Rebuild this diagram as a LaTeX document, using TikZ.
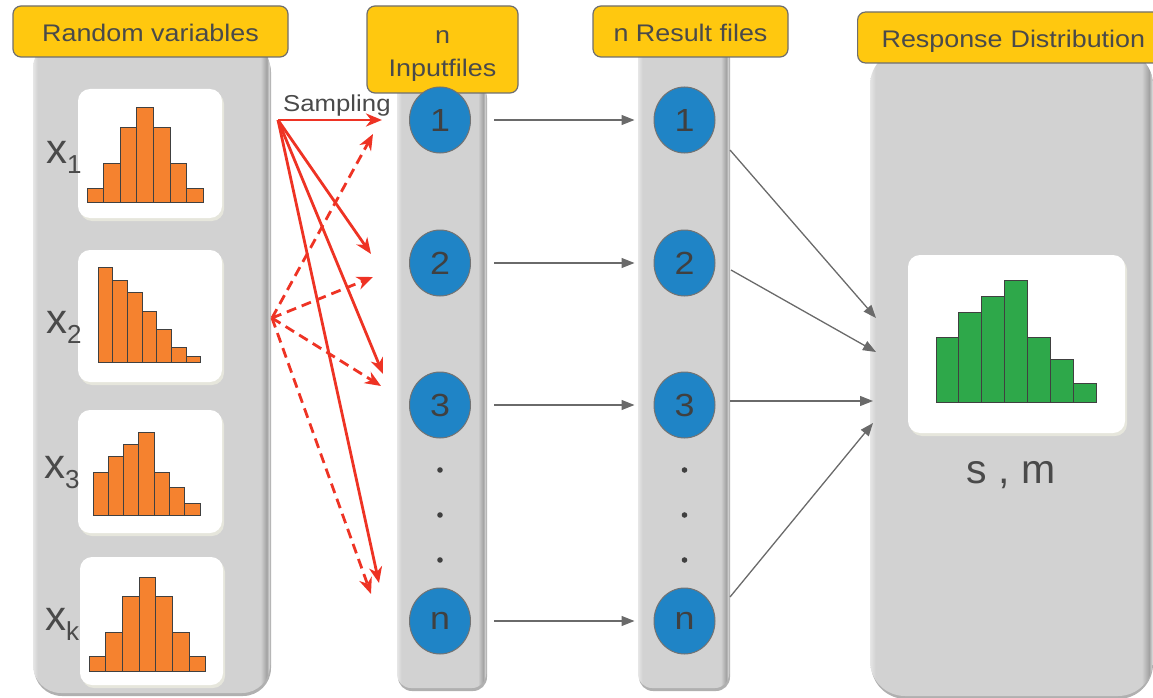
\documentclass[tikz,border=0pt]{standalone}
\usepackage{fontspec}
\setmainfont{Liberation Sans}[FakeStretch=1.12]
\newfontfamily\lblfont{Liberation Sans}
\usetikzlibrary{arrows.meta,shapes.geometric}

\definecolor{hdrfill}{HTML}{FFC80F}
\definecolor{hdrline}{HTML}{6E6E6E}
\definecolor{txtgray}{HTML}{4A4A4A}
\definecolor{colgray}{HTML}{D2D2D2}
\definecolor{coldark}{HTML}{A2A2A2}
\definecolor{colpale}{HTML}{E6E6E6}
\definecolor{barorange}{HTML}{F5822F}
\definecolor{bargreen}{HTML}{2EA84A}
\definecolor{discblue}{HTML}{1F84C6}
\definecolor{sampred}{HTML}{EE3324}
\definecolor{flowgray}{HTML}{6A6A6A}
\definecolor{cardshade}{HTML}{E6E6DC}

% column fills: pale left rim, flat body, dark right rim
\pgfdeclarehorizontalshading{widecol}{100bp}{color(0bp)=(colpale); color(25bp)=(colpale); color(26bp)=(colgray); color(73bp)=(colgray); color(74.3bp)=(coldark); color(75bp)=(colpale); color(100bp)=(colpale)}
\pgfdeclarehorizontalshading{slimcol}{100bp}{color(0bp)=(colpale); color(25bp)=(colpale); color(27.5bp)=(colgray); color(70.5bp)=(colgray); color(73.5bp)=(coldark); color(75bp)=(colpale); color(100bp)=(colpale)}

\tikzset{
  hdr/.style={draw=hdrline, line width=1.2pt, fill=hdrfill, rounded corners=8pt,
    text=txtgray, font=\fontsize{24}{33}\selectfont, inner sep=0pt},
  hdrtext/.style={text=txtgray, font=\fontsize{24}{33}\selectfont, inner sep=0pt},
  colshadow/.style={fill=coldark!70!colgray},
  bar/.style={draw=black!75, line width=1pt},
  disc/.style={ellipse, minimum width=61pt, minimum height=66pt, inner sep=0pt,
    fill=discblue, draw=black!55, line width=1pt, text=black!75,
    font=\fontsize{32}{32}\selectfont},
  flow/.style={draw=flowgray, line width=1.3pt, -{Triangle[length=13pt,width=10pt]}},
  samp/.style={draw=sampred, line width=2.8pt, -{Stealth[length=16pt,width=13pt,inset=5pt]}},
  sampdash/.style={samp, dash pattern=on 10pt off 6pt},
  varlbl/.style={anchor=base west, inner sep=0pt, text=txtgray, font=\lblfont\fontsize{42}{42}\selectfont},
}
\newcommand{\subidx}[1]{\raisebox{-10pt}{\fontsize{26}{26}\selectfont #1}}

\begin{document}
\begin{tikzpicture}[x=1pt,y=-1pt]
\useasboundingbox (0,0) rectangle (1153,698);

% ---- columns ----
\fill[colshadow, rounded corners=28pt] (34,44) rectangle (271,696);
\path[shading=widecol, rounded corners=28pt] (33,40) rectangle (270,693);
\fill[colshadow, rounded corners=14pt] (398,84) rectangle (487,691);
\path[shading=slimcol, rounded corners=14pt] (397,80) rectangle (486,688);
\fill[colshadow, rounded corners=14pt] (639,44) rectangle (730,691);
\path[shading=slimcol, rounded corners=14pt] (638,40) rectangle (729,688);
\fill[colshadow, rounded corners=35pt] (871,50) rectangle (1153,699);
\path[shading=widecol, rounded corners=35pt] (870,50) rectangle (1153,696);

% ---- headers ----
\node[hdr, minimum width=275pt, minimum height=51pt, text height=21pt, text depth=0pt] (hrv) at (150.5,31.5) {Random variables};
\node[hdr, minimum width=151pt, minimum height=87pt] (hin) at (442.5,49.5) {};
\node[hdrtext, align=center] (hintext) at (442.5,56.5) {n\\Inputfiles};
\node[hdr, minimum width=195pt, minimum height=51pt, text height=21pt, text depth=0pt] (hrs) at (690.5,31.5) {n Result files};
\node[hdr, anchor=west, minimum height=51pt, text width=300pt, align=left, inner xsep=24pt, text height=21pt, text depth=0pt] (hrd) at (857,37.5) {Response Distribution};

% ---- cards for the histograms ----
\foreach \xa/\ya/\xb/\yb in {78/89/222/218, 78/250/222/382, 78/410/222/533, 80/557/223/685, 908/255/1125/433}{
  \fill[cardshade, rounded corners=12pt] (\xa+2,\ya+3) rectangle (\xb+2,\yb+3);
  \fill[white, rounded corners=12pt] (\xa,\ya) rectangle (\xb,\yb);
}

% ---- histograms ----
\foreach \h [count=\i] in {14,39,74,94,74,39,14}
  \filldraw[bar, fill=barorange] ({87+(\i-1)*16.6},202) rectangle ++(16.6,-\h);
\foreach \h [count=\i] in {95,82,70,51,33,15,6}
  \filldraw[bar, fill=barorange] ({98+(\i-1)*14.7},362) rectangle ++(14.7,-\h);
\foreach \h [count=\i] in {43,59,71,83,43,28,12}
  \filldraw[bar, fill=barorange] ({93+(\i-1)*15.3},515) rectangle ++(15.3,-\h);
\foreach \h [count=\i] in {15,39,75,94,75,39,15}
  \filldraw[bar, fill=barorange] ({89+(\i-1)*16.7},671) rectangle ++(16.7,-\h);
\foreach \h [count=\i] in {65,90,106,122,65,43,19}
  \filldraw[bar, fill=bargreen] ({936+(\i-1)*22.86},402) rectangle ++(22.86,-\h);

% ---- variable labels ----
\node[varlbl] (lx1) at (46,163) {x\subidx{1}};
\node[varlbl] (lx2) at (46,333) {x\subidx{2}};
\node[varlbl] (lx3) at (44,478) {x\subidx{3}};
\node[varlbl] (lxk) at (45,630) {x\subidx{k}};

\node[anchor=base, inner sep=0pt, text=txtgray, font=\lblfont\fontsize{41}{41}\selectfont] (stats) at (1011,483) {s , m};

% ---- input and result files ----
\node[disc] (i1) at (440,120) {1};
\node[disc] (i2) at (440,263) {2};
\node[disc] (i3) at (440,405) {3};
\node[disc] (in) at (440,621) {n};
\node[disc] (r1) at (684.5,120) {1};
\node[disc] (r2) at (684.5,263) {2};
\node[disc] (r3) at (684.5,405) {3};
\node[disc] (rn) at (684.5,621) {n};
\foreach \yy in {470,515,560}{
  \fill[black!75] (440,\yy) circle (2.8);
  \fill[black!75] (684.5,\yy) circle (2.8);
}

% ---- sampling ----
\node[anchor=base west, inner sep=0pt, text=txtgray, font=\fontsize{23}{23}\selectfont] (samptxt) at (283,112) {Sampling};
\coordinate (sa) at (278,120);
\coordinate (sb) at (272,318);
\coordinate (ta1) at (382,120);
\coordinate (ta2) at (371,254);
\coordinate (ta3) at (383,374);
\coordinate (ta4) at (379,583);
\coordinate (tb1) at (373,134);
\coordinate (tb2) at (373,277);
\coordinate (tb3) at (381,386);
\coordinate (tb4) at (371,594);
\foreach \t in {ta1,ta2,ta3,ta4} \draw[samp] (sa) -- (\t);
\foreach \t in {tb1,tb2,tb3,tb4} \draw[sampdash] (sb) -- (\t);

% ---- runs: input file -> result file ----
\draw[flow, shorten <=23pt, shorten >=19pt] (i1) -- (r1);
\draw[flow, shorten <=23pt, shorten >=19pt] (i2) -- (r2);
\draw[flow, shorten <=23pt, shorten >=19pt] (i3) -- (r3);
\draw[flow, shorten <=23pt, shorten >=19pt] (in) -- (rn);

% ---- results -> response distribution ----
\coordinate (q1) at (876,318);
\coordinate (q2) at (876,352);
\coordinate (q3) at (873,401);
\coordinate (q4) at (873,423);
\draw[flow] ([shift={(45.5,30)}]r1.center) -- (q1);
\draw[flow] ([shift={(46.5,7)}]r2.center) -- (q2);
\draw[flow] ([shift={(45.5,-4)}]r3.center) -- (q3);
\draw[flow] ([shift={(45.5,-24)}]rn.center) -- (q4);
\end{tikzpicture}
\end{document}
